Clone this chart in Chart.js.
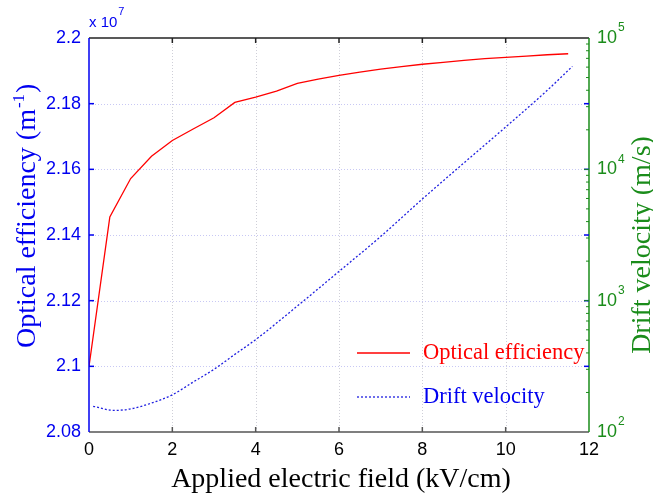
<!DOCTYPE html>
<html>
<head>
<meta charset="utf-8">
<script src="https://cdn.jsdelivr.net/npm/chart.js@4.4.1/dist/chart.umd.min.js"></script>
<style>
  html, body { margin: 0; padding: 0; background: #fff; }
  canvas { display: block; }
</style>
</head>
<body>
<canvas id="chart" width="653" height="498"></canvas>
<script>
// applied field (kV/cm) and optical efficiency (x 10^7 m^-1)
const fieldOptical = [0, 0.5, 1, 1.5, 2, 2.5, 3, 3.5, 4, 4.5, 5, 5.5, 6, 6.5, 7, 7.5, 8, 8.5, 9, 9.5, 10, 10.5, 11, 11.5];
const opticalEff = [2.100, 2.1455, 2.1572, 2.1640, 2.1688, 2.1723, 2.1757, 2.1804, 2.1820, 2.1838, 2.1862, 2.1875,
  2.1886, 2.1896, 2.1905, 2.1913, 2.1920, 2.1926, 2.1932, 2.1937, 2.1941, 2.1945, 2.1949, 2.1952];

// applied field (kV/cm) and drift velocity (m/s)
const fieldDrift = [0.1, 0.6, 1, 1.5, 2, 2.5, 3, 3.5, 4, 5, 6, 7, 8, 9, 10, 11, 11.6];
const driftVel = [157, 146, 150, 166, 192, 240, 300, 390, 505, 910, 1670, 3080, 5940, 11200, 21000, 40000, 60800];

const xTicks = [0, 2, 4, 6, 8, 10, 12];
const leftTicks = [2.08, 2.1, 2.12, 2.14, 2.16, 2.18, 2.2];
const rightExps = [2, 3, 4, 5];

const BLUE = '#0000f0';
const GREEN = '#1a8c1a';
const RED = '#ff0000';
const SANS = '"Liberation Sans", Arial, sans-serif';
const SERIF = '"Liberation Serif", "Times New Roman", serif';

const toPoints = (xs, ys) => xs.map((x, i) => ({ x, y: ys[i] }));

const decorations = {
  id: 'decorations',
  beforeDraw(chart) {
    const { ctx } = chart;
    ctx.save();
    ctx.fillStyle = '#fff';
    ctx.fillRect(0, 0, chart.width, chart.height);
    ctx.restore();
  },
  beforeDatasetsDraw(chart) {
    const { ctx, chartArea: a, scales } = chart;
    ctx.save();
    ctx.lineWidth = 1;
    ctx.setLineDash([1, 2]);
    ctx.strokeStyle = '#cfcfd8';
    xTicks.slice(1, -1).forEach(v => {
      const px = Math.round(scales.x.getPixelForValue(v)) + 0.5;
      ctx.beginPath(); ctx.moveTo(px, a.top); ctx.lineTo(px, a.bottom); ctx.stroke();
    });
    ctx.strokeStyle = '#c8c8f4';
    leftTicks.slice(1, -1).forEach(v => {
      const py = Math.round(scales.y.getPixelForValue(v)) + 0.5;
      ctx.beginPath(); ctx.moveTo(a.left, py); ctx.lineTo(a.right, py); ctx.stroke();
    });
    ctx.restore();
  },
  afterDraw(chart) {
    const { ctx, chartArea: a, scales } = chart;
    ctx.save();
    ctx.setLineDash([]);
    ctx.lineWidth = 1.5;

    const line = (x1, y1, x2, y2, c) => {
      ctx.strokeStyle = c;
      ctx.beginPath(); ctx.moveTo(x1, y1); ctx.lineTo(x2, y2); ctx.stroke();
    };

    // frame
    line(a.left, a.top, a.right, a.top, '#222');
    line(a.left, a.bottom, a.right, a.bottom, '#555');
    line(a.left, a.top, a.left, a.bottom, BLUE);
    line(a.right, a.top, a.right, a.bottom, GREEN);

    // x ticks (inward, mirrored on top)
    xTicks.slice(1, -1).forEach(v => {
      const px = scales.x.getPixelForValue(v);
      line(px, a.bottom, px, a.bottom - 5, '#555');
      line(px, a.top, px, a.top + 5, '#222');
    });
    // left ticks, mirrored on right
    leftTicks.slice(1, -1).forEach(v => {
      const py = scales.y.getPixelForValue(v);
      line(a.left, py, a.left + 5, py, BLUE);
      line(a.right, py, a.right - 5, py, BLUE);
    });
    // right log ticks
    ctx.lineWidth = 1;
    rightExps.forEach((e, i) => {
      const base = Math.pow(10, e);
      if (i > 0 && i < rightExps.length - 1) {
        const py = scales.y2.getPixelForValue(base);
        line(a.right, py, a.right - 5, py, GREEN);
      }
      if (i < rightExps.length - 1) {
        for (let m = 2; m <= 9; m++) {
          const py = scales.y2.getPixelForValue(base * m);
          line(a.right, py, a.right - 3, py, GREEN);
        }
      }
    });

    // right tick labels 10^n
    ctx.textBaseline = 'middle';
    ctx.textAlign = 'left';
    ctx.fillStyle = GREEN;
    rightExps.forEach(e => {
      const py = scales.y2.getPixelForValue(Math.pow(10, e));
      ctx.font = '18px ' + SANS;
      ctx.fillText('10', a.right + 8, py);
      const w = ctx.measureText('10').width;
      ctx.font = '12px ' + SANS;
      ctx.fillText(String(e), a.right + 9 + w, py - 10);
    });

    // multiplier x 10^7
    ctx.fillStyle = BLUE;
    ctx.font = '15px ' + SANS;
    ctx.fillText('x 10', a.left, a.top - 15);
    const mw = ctx.measureText('x 10').width;
    ctx.font = '11px ' + SANS;
    ctx.fillText('7', a.left + mw + 1, a.top - 26);

    // legend
    const legendRows = [
      { ds: chart.data.datasets[0], y: 353 },
      { ds: chart.data.datasets[1], y: 397 }
    ];
    legendRows.forEach(r => {
      ctx.strokeStyle = r.ds.borderColor;
      ctx.lineWidth = r.ds.borderWidth;
      ctx.setLineDash(r.ds.borderDash || []);
      ctx.beginPath(); ctx.moveTo(357, r.y); ctx.lineTo(410, r.y); ctx.stroke();
      ctx.setLineDash([]);
      ctx.fillStyle = r.ds.borderColor === RED ? RED : BLUE;
      ctx.font = '22.5px ' + SERIF;
      ctx.textBaseline = 'middle';
      ctx.fillText(r.ds.label, 423, r.y);
    });

    // x title
    ctx.fillStyle = '#000';
    ctx.font = '28px ' + SERIF;
    ctx.textAlign = 'center';
    ctx.textBaseline = 'alphabetic';
    ctx.fillText('Applied electric field (kV/cm)', (a.left + a.right) / 2 + 2, 487);

    // left title with superscript
    ctx.save();
    ctx.translate(35, 348);
    ctx.rotate(-Math.PI / 2);
    ctx.fillStyle = BLUE;
    ctx.textAlign = 'left';
    const p1 = 'Optical efficiency (m', p2 = '-1', p3 = ')';
    ctx.font = '28px ' + SERIF;
    const w1 = ctx.measureText(p1).width;
    ctx.font = '17px ' + SERIF;
    const w2 = ctx.measureText(p2).width;
    ctx.font = '28px ' + SERIF;
    ctx.fillText(p1, 0, 0);
    ctx.font = '17px ' + SERIF;
    ctx.fillText(p2, w1 + 1, -11);
    ctx.font = '28px ' + SERIF;
    ctx.fillText(p3, w1 + w2 + 2, 0);
    ctx.restore();

    // right title
    ctx.save();
    ctx.translate(650, 245);
    ctx.rotate(-Math.PI / 2);
    ctx.fillStyle = GREEN;
    ctx.textAlign = 'center';
    ctx.font = '28px ' + SERIF;
    ctx.fillText('Drift velocity (m/s)', 0, 0);
    ctx.restore();

    ctx.restore();
  }
};

new Chart(document.getElementById('chart'), {
  type: 'line',
  data: {
    datasets: [
      {
        label: 'Optical efficiency',
        data: toPoints(fieldOptical, opticalEff),
        yAxisID: 'y',
        borderColor: RED,
        borderWidth: 1.3,
        pointRadius: 0,
        tension: 0
      },
      {
        label: 'Drift velocity',
        data: toPoints(fieldDrift, driftVel),
        yAxisID: 'y2',
        borderColor: '#2020e0',
        borderWidth: 1.3,
        borderDash: [2, 2],
        pointRadius: 0,
        cubicInterpolationMode: 'monotone'
      }
    ]
  },
  options: {
    responsive: false,
    animation: false,
    devicePixelRatio: 1,
    layout: { padding: { top: 38, left: 0, right: 0, bottom: 0 } },
    plugins: { legend: { display: false }, tooltip: { enabled: false } },
    scales: {
      x: {
        type: 'linear',
        min: 0, max: 12,
        afterBuildTicks: s => { s.ticks = xTicks.map(v => ({ value: v })); },
        ticks: { color: '#000', font: { family: SANS, size: 18 }, padding: 7, maxRotation: 0 },
        grid: { display: false, drawTicks: false },
        border: { display: false },
        afterFit: s => { s.height = 66; }
      },
      y: {
        type: 'linear',
        position: 'left',
        min: 2.08, max: 2.2,
        afterBuildTicks: s => { s.ticks = leftTicks.map(v => ({ value: v })); },
        ticks: {
          color: BLUE,
          font: { family: SANS, size: 18 },
          padding: 8,
          callback: v => String(Number(v.toFixed(2)))
        },
        grid: { display: false, drawTicks: false },
        border: { display: false },
        afterFit: s => { s.width = 89; }
      },
      y2: {
        type: 'logarithmic',
        position: 'right',
        min: 100, max: 100000,
        ticks: { display: false },
        grid: { display: false, drawTicks: false },
        border: { display: false },
        afterFit: s => { s.width = 64; }
      }
    }
  },
  plugins: [decorations]
});
</script>
</body>
</html>
